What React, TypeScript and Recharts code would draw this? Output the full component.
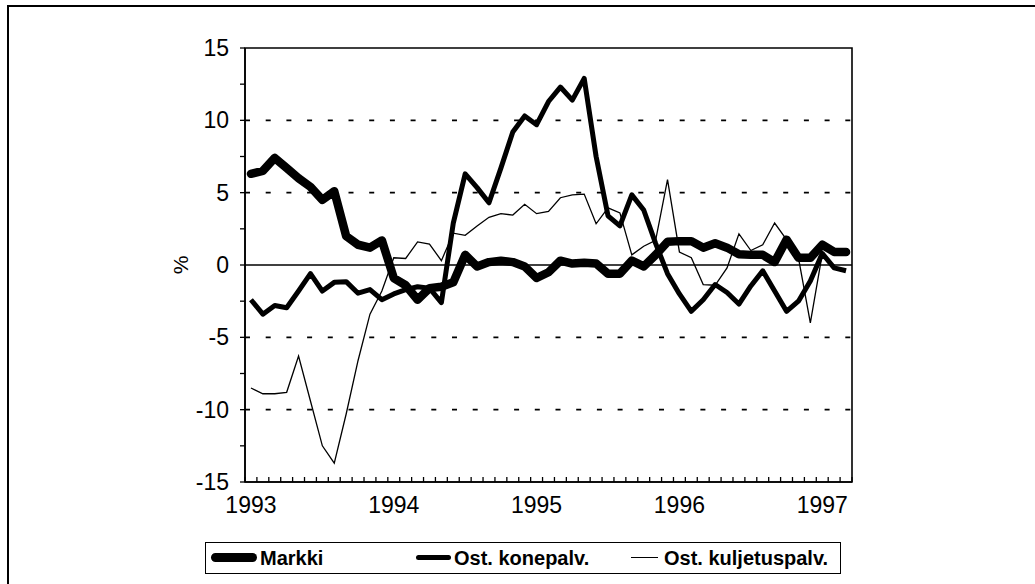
import React from "react";
import {
  LineChart,
  Line,
  XAxis,
  YAxis,
  ReferenceLine,
  ReferenceArea,
} from "recharts";

// kuukausittaiset havainnot 1993/01 - 1997/03 (%)
const years = ["1993", "1994", "1995", "1996", "1997"];

const markki = [
  6.3, 6.5, 7.4, 6.7, 6.0, 5.4, 4.5, 5.1, 2.0, 1.4, 1.2, 1.7,
  -0.9, -1.4, -2.4, -1.6, -1.5, -1.2, 0.7, -0.1, 0.2, 0.3, 0.2, -0.1,
  -0.9, -0.5, 0.3, 0.1, 0.15, 0.1, -0.6, -0.6, 0.3, -0.1, 0.7, 1.6,
  1.65, 1.65, 1.2, 1.5, 1.2, 0.75, 0.7, 0.7, 0.2, 1.75, 0.5, 0.5,
  1.4, 0.9, 0.9,
];

const konepalv = [
  -2.4, -3.4, -2.8, -2.95, -1.8, -0.6, -1.8, -1.2, -1.15, -1.95, -1.7, -2.4,
  -2.0, -1.7, -1.5, -1.6, -2.6, 2.9, 6.3, 5.35, 4.3, 6.7, 9.2, 10.3,
  9.7, 11.3, 12.3, 11.4, 12.9, 7.5, 3.4, 2.7, 4.85, 3.8, 1.5, -0.6,
  -2.0, -3.2, -2.4, -1.35, -1.9, -2.7, -1.45, -0.4, -1.8, -3.2, -2.5, -1.1,
  0.8, -0.2, -0.4,
];

const kuljetuspalv: (number | null)[] = [
  -8.5, -8.9, -8.9, -8.8, -6.3, -9.4, -12.5, -13.7, -10.3, -6.6, -3.4, -1.8,
  0.5, 0.45, 1.6, 1.45, 0.3, 2.2, 2.05, 2.7, 3.3, 3.55, 3.45, 4.2,
  3.55, 3.7, 4.65, 4.85, 4.9, 2.85, 3.95, 3.6, 0.7, 1.3, 1.7, 5.9,
  0.9, 0.5, -1.35, -1.4, -0.2, 2.15, 1.0, 1.4, 2.9, 1.75, 0.5, -4.0,
  0.75, null, null,
];

const yTicks = [-15, -12.5, -10, -7.5, -5, -2.5, 0, 2.5, 5, 7.5, 10, 12.5, 15];
const dashedLines = [-10, -5, 5, 10];

const data = markki.map((v, i) => ({
  x: i + 0.5,
  markki: v,
  kone: konepalv[i],
  kulj: kuljetuspalv[i],
}));

const monthTicks = Array.from({ length: markki.length + 1 }, (_, i) => i);
const yearTicks = years.map((_, k) => k * 12 + 0.5);
const xTicks = [...monthTicks, ...yearTicks];

const FONT = "'Liberation Sans', Arial, sans-serif";

function XTick(props: any) {
  const { x, y, payload } = props;
  const v = payload.value;
  if (Number.isInteger(v)) {
    return <line x1={x} x2={x} y1={y} y2={y - 5} stroke="#000" strokeWidth={1.3} />;
  }
  const k = Math.round((v - 0.5) / 12);
  return (
    <text x={x} y={y + 31} textAnchor="middle" fontSize={23} fill="#000" fontFamily={FONT}>
      {years[k]}
    </text>
  );
}

export default function App() {
  return (
    <div
      style={{
        position: "absolute",
        left: 0,
        top: 0,
        width: 1035,
        height: 584,
        background: "#fff",
        fontFamily: FONT,
        overflow: "hidden",
      }}
    >
      {/* kehys */}
      <div style={{ position: "absolute", left: 7, top: 5, width: 1028, height: 1.5, background: "#000" }} />
      <div style={{ position: "absolute", left: 7, top: 5, width: 1.5, height: 579, background: "#000" }} />

      <LineChart
        width={1035}
        height={584}
        data={data}
        margin={{ top: 48, right: 183, bottom: 62, left: 170 }}
        style={{ position: "absolute", left: 0, top: 0 }}
      >
        <XAxis
          dataKey="x"
          type="number"
          domain={[0, markki.length]}
          ticks={xTicks}
          interval={0}
          tick={<XTick />}
          tickLine={false}
          tickSize={0}
          tickMargin={0}
          axisLine={{ stroke: "#000", strokeWidth: 1.5 }}
          height={40}
        />
        <YAxis
          type="number"
          domain={[-15, 15]}
          ticks={yTicks}
          interval={0}
          width={75}
          tickSize={5}
          tickMargin={11}
          tickLine={{ stroke: "#000", strokeWidth: 1.3 }}
          axisLine={{ stroke: "#000", strokeWidth: 1.5 }}
          tick={{ fontSize: 23, fill: "#000", fontFamily: FONT }}
          tickFormatter={(v: number) => (v % 5 === 0 ? `${v}` : "")}
        />
        {dashedLines.map((v) => (
          <ReferenceLine key={v} y={v} stroke="#000" strokeWidth={1.8} strokeDasharray="5 15.7" />
        ))}
        <ReferenceLine y={0} stroke="#000" strokeWidth={1.5} />
        <ReferenceArea
          x1={0}
          x2={markki.length}
          y1={-15}
          y2={15}
          fill="none"
          stroke="#000"
          strokeWidth={1.6}
          ifOverflow="visible"
        />
        <Line
          dataKey="kulj"
          type="linear"
          stroke="#000"
          strokeWidth={1.3}
          dot={false}
          isAnimationActive={false}
        />
        <Line
          dataKey="markki"
          type="linear"
          stroke="#000"
          strokeWidth={8.5}
          strokeLinejoin="round"
          strokeLinecap="round"
          dot={false}
          isAnimationActive={false}
        />
        <Line
          dataKey="kone"
          type="linear"
          stroke="#000"
          strokeWidth={5}
          strokeLinejoin="round"
          dot={false}
          isAnimationActive={false}
        />
      </LineChart>

      {/* y-akselin otsikko */}
      <div
        style={{
          position: "absolute",
          left: 180,
          top: 265,
          transform: "translate(-50%, -50%) rotate(-90deg)",
          fontSize: 21,
          lineHeight: 1,
        }}
      >
        %
      </div>

      {/* selite */}
      <div
        style={{
          position: "absolute",
          left: 205,
          top: 542,
          width: 636,
          height: 32,
          border: "1.5px solid #000",
          boxSizing: "border-box",
        }}
      >
        <div style={{ position: "absolute", left: 5, top: 10, width: 46, height: 9, borderRadius: 4.5, background: "#000" }} />
        <div style={{ position: "absolute", left: 54, top: 4, fontSize: 20, fontWeight: 700 }}>Markki</div>
        <div style={{ position: "absolute", left: 210, top: 12, width: 35, height: 5, borderRadius: 2.5, background: "#000" }} />
        <div style={{ position: "absolute", left: 248, top: 4, fontSize: 20, fontWeight: 700 }}>Ost. konepalv.</div>
        <div style={{ position: "absolute", left: 425, top: 14, width: 27, height: 1.3, background: "#000" }} />
        <div style={{ position: "absolute", left: 458, top: 4, fontSize: 20, fontWeight: 700 }}>Ost. kuljetuspalv.</div>
      </div>
    </div>
  );
}
